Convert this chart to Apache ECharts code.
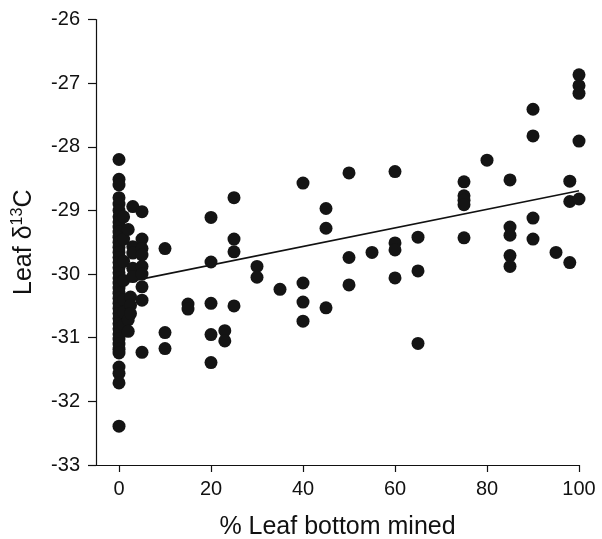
<!DOCTYPE html>
<html>
<head>
<meta charset="utf-8">
<script src="https://cdn.jsdelivr.net/npm/echarts@6/dist/echarts.min.js"></script>
<style>
  html, body { margin: 0; padding: 0; background: #fff; }
  #main { width: 602px; height: 539px; }
</style>
</head>
<body>
<div id="main"></div>
<script>
// % of leaf bottom mined vs leaf d13C
const minedX = [
  0, 0, 0, 0, 0, 0, 0, 0, 0, 0, 0, 0, 0, 0, 0, 0, 0, 0, 0,
  0, 0, 0, 0, 0, 0, 0, 0, 0, 0, 0, 0, 0, 0, 0, 0, 0, 0, 0,
  1, 1, 1, 1, 1, 1, 1,
  2, 2, 2, 2.5, 2.5, 2.5,
  3, 3, 3, 3, 3,
  5, 5, 5, 5, 5, 5, 5, 5, 5,
  10, 10, 10, 15, 15,
  20, 20, 20, 20, 20, 23, 23,
  25, 25, 25, 25, 30, 30, 35,
  40, 40, 40, 40, 45, 45, 45,
  50, 50, 50, 55, 60, 60, 60, 60,
  65, 65, 65, 75, 75, 75, 75, 75, 80,
  85, 85, 85, 85, 85, 90, 90, 90, 90, 95,
  98, 98, 98, 100, 100, 100, 100, 100
];
const leafC13 = [
  -28.2, -28.51, -28.6, -28.8, -28.9, -29.0, -29.1, -29.18, -29.26, -29.34, -29.42, -29.5, -29.58, -29.66, -29.74, -29.82, -29.9, -29.98, -30.06,
  -30.14, -30.22, -30.3, -30.38, -30.46, -30.54, -30.62, -30.7, -30.78, -30.86, -30.94, -31.02, -31.1, -31.18, -31.24, -31.46, -31.56, -31.71, -32.39,
  -29.1, -29.45, -29.8, -30.1, -30.4, -30.6, -30.8,
  -29.3, -30.72, -30.9, -30.36, -30.49, -30.62,
  -28.94, -29.57, -29.67, -29.91, -30.04,
  -29.02, -29.45, -29.6, -29.7, -29.88, -30.0, -30.2, -30.41, -31.23,
  -29.6, -30.92, -31.17, -30.47, -30.55,
  -29.11, -29.81, -30.46, -30.95, -31.39, -30.89, -31.05,
  -28.8, -29.45, -29.65, -30.5, -29.88, -30.05, -30.24,
  -28.57, -30.14, -30.44, -30.74, -28.97, -29.28, -30.53,
  -28.41, -29.74, -30.17, -29.66, -28.39, -29.51, -29.62, -30.06,
  -29.42, -29.95, -31.09, -28.55, -28.77, -28.84, -28.91, -29.43, -28.21,
  -28.52, -29.26, -29.39, -29.71, -29.88, -27.41, -27.83, -29.12, -29.45, -29.66,
  -28.54, -28.86, -29.82, -26.87, -27.04, -27.16, -27.91, -28.82
];
// fitted line end points
const fitX = [0, 100];
const fitY = [-30.15, -28.69];
const xTicks = [0, 20, 40, 60, 80, 100];

const points = minedX.map((x, i) => [x, leafC13[i]]);
const fitLine = fitX.map((x, i) => [x, fitY[i]]);

const font = "'Liberation Sans', Arial, Helvetica, sans-serif";
const myChart = echarts.init(document.getElementById('main'));

const option = {
  animation: false,
  grid: { left: 96, right: 23, top: 19.5, bottom: 74, containLabel: false, outerBoundsMode: 'none' },
  xAxis: {
    type: 'value',
    min: -5,
    max: 100,
    name: '% Leaf bottom mined',
    nameLocation: 'middle',
    nameGap: 50,
    nameTextStyle: { fontFamily: font, fontSize: 25, color: '#111' },
    axisLine: { onZero: false, lineStyle: { color: '#111', width: 1.2 } },
    axisTick: { length: 7, customValues: xTicks, lineStyle: { color: '#111', width: 1.2 } },
    axisLabel: { customValues: xTicks, margin: 14, fontFamily: font, fontSize: 20, color: '#111' },
    splitLine: { show: false }
  },
  yAxis: {
    type: 'value',
    min: -33,
    max: -26,
    interval: 1,
    name: '{a|Leaf δ}{sup|13}{a|C}',
    nameLocation: 'middle',
    nameGap: 58,
    nameTextStyle: {
      fontFamily: font, fontSize: 25, color: '#111',
      rich: {
        a: { fontFamily: font, fontSize: 25, color: '#111', lineHeight: 28 },
        sup: { fontFamily: font, fontSize: 16, color: '#111', verticalAlign: 'top', lineHeight: 28 }
      }
    },
    axisLine: { onZero: false, lineStyle: { color: '#111', width: 1.2 } },
    axisTick: { length: 8, lineStyle: { color: '#111', width: 1.2 } },
    axisLabel: { margin: 16, fontFamily: font, fontSize: 20, color: '#111' },
    splitLine: { show: false }
  },
  series: [
    {
      type: 'line',
      data: fitLine,
      symbol: 'none',
      lineStyle: { color: '#111', width: 1.6 },
      z: 1
    },
    {
      type: 'scatter',
      data: points,
      symbolSize: 13,
      itemStyle: { color: '#141414', opacity: 1 },
      z: 2
    }
  ]
};
myChart.setOption(option);
</script>
</body>
</html>
